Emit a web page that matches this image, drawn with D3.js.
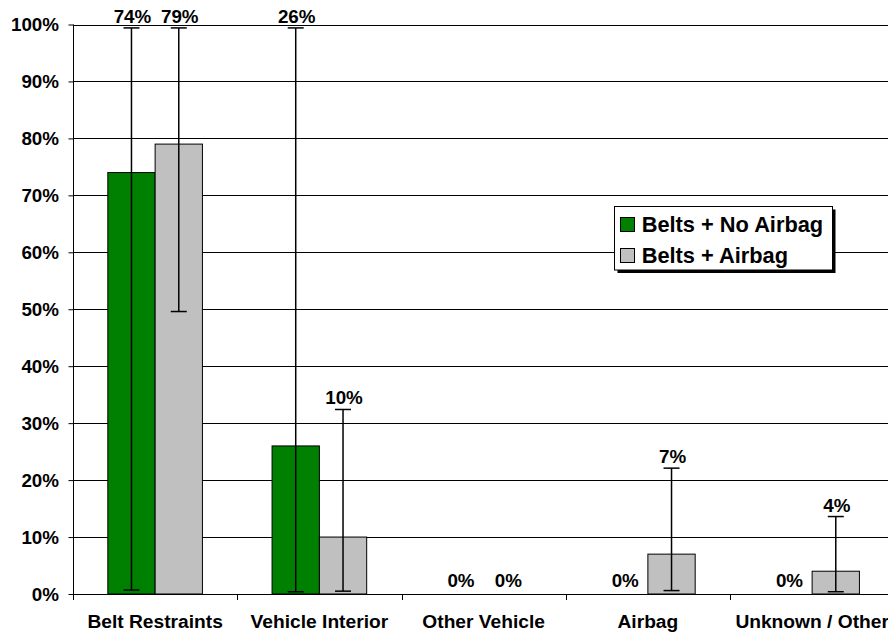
<!DOCTYPE html>
<html>
<head>
<meta charset="utf-8">
<script src="https://cdn.jsdelivr.net/npm/d3@7"></script>
<style>
  html, body { margin: 0; padding: 0; background: #fff; }
  svg { display: block; font-family: "Liberation Sans", Arial, sans-serif; font-weight: bold; }
</style>
</head>
<body>
<svg id="chart" width="888" height="635"></svg>
<script>
// Injury source by restraint configuration (percent of cases)
const categories = ["Belt Restraints", "Vehicle Interior", "Other Vehicle", "Airbag", "Unknown / Other"];
const seriesNames = ["Belts + No Airbag", "Belts + Airbag"];
const seriesColors = ["#008000", "#c0c0c0"];

const noAirbagValues = [74, 26, 0, 0, 0];
const airbagValues   = [79, 10, 0, 7, 4];

// Confidence interval bounds (percent)
const noAirbagHigh = [99.4, 99.4, 0, 0, 0];
const noAirbagLow  = [0.7, 0.4, 0, 0, 0];
const airbagHigh   = [99.4, 32.4, 0, 22.1, 13.6];
const airbagLow    = [49.6, 0.5, 0, 0.6, 0.4];

const yTicks = [0, 10, 20, 30, 40, 50, 60, 70, 80, 90, 100];

const svg = d3.select("#chart");
const plot = { left: 73, right: 894.25, top: 24.5, bottom: 594 };
const FONT = "Liberation Sans, Arial, sans-serif";

const x0 = d3.scaleBand().domain(categories).range([plot.left, plot.right]).paddingInner(0).paddingOuter(0);
const x1 = d3.scaleBand().domain(seriesNames).range([0, x0.bandwidth()]).paddingInner(0).paddingOuter(0.736);
const y = d3.scaleLinear().domain([0, 100]).range([plot.bottom, plot.top]);

const rows = categories.map((c, i) => ({
  category: c,
  items: [
    { series: seriesNames[0], value: noAirbagValues[i], hi: noAirbagHigh[i], lo: noAirbagLow[i] },
    { series: seriesNames[1], value: airbagValues[i], hi: airbagHigh[i], lo: airbagLow[i] }
  ]
}));

// Horizontal gridlines
svg.append("g")
  .selectAll("line")
  .data(yTicks.filter(t => t > 0))
  .join("line")
  .attr("x1", plot.left).attr("x2", 888)
  .attr("y1", d => Math.round(y(d)) + 0.5).attr("y2", d => Math.round(y(d)) + 0.5)
  .attr("stroke", "#000").attr("stroke-width", 1);

// Y axis
const yAxis = d3.axisLeft(y).tickValues(yTicks).tickFormat(d => d + "%").tickSize(5).tickPadding(9.5);
const gy = svg.append("g").attr("transform", `translate(${plot.left + 0.5},0)`).call(yAxis);
gy.select(".domain").attr("stroke", "#000").attr("d", `M0,${y(100)}V${plot.bottom}`);
gy.selectAll(".tick line").attr("stroke", "#000");
gy.selectAll(".tick text").attr("fill", "#000")
  .style("font-size", "18.8px").style("font-weight", "bold").style("font-family", FONT);

// Bars
const groups = svg.append("g").selectAll("g")
  .data(rows).join("g")
  .attr("transform", d => `translate(${x0(d.category)},0)`);

groups.selectAll("rect")
  .data(d => d.items.filter(it => it.value > 0))
  .join("rect")
  .attr("x", d => x1(d.series))
  .attr("y", d => y(d.value))
  .attr("width", x1.bandwidth())
  .attr("height", d => y(0) - y(d.value))
  .attr("fill", d => seriesColors[seriesNames.indexOf(d.series)])
  .attr("stroke", "#000").attr("stroke-width", 1);

// Error bars
const capHalf = 8;
const cx = d => x1(d.series) + x1.bandwidth() / 2;
const eb = groups.selectAll("g.err")
  .data(d => d.items.filter(it => it.value > 0))
  .join("g").attr("class", "err")
  .attr("stroke", "#000").attr("stroke-width", 1.5);
eb.append("line")
  .attr("x1", cx).attr("x2", cx)
  .attr("y1", d => y(d.hi)).attr("y2", d => y(d.lo));
eb.append("line")
  .attr("x1", d => cx(d) - capHalf).attr("x2", d => cx(d) + capHalf)
  .attr("y1", d => y(d.hi)).attr("y2", d => y(d.hi));
eb.append("line")
  .attr("x1", d => cx(d) - capHalf).attr("x2", d => cx(d) + capHalf)
  .attr("y1", d => y(d.lo)).attr("y2", d => y(d.lo));

// Value labels above the upper bound
groups.selectAll("text.val")
  .data(d => d.items)
  .join("text").attr("class", "val")
  .attr("x", d => cx(d) + 1)
  .attr("y", d => d.value > 0 ? y(d.hi) - 5 : y(0) - 7)
  .attr("text-anchor", "middle")
  .style("font-size", "18.8px")
  .attr("fill", "#000")
  .text(d => d.value + "%");

// X axis
svg.append("line")
  .attr("x1", plot.left).attr("x2", 888)
  .attr("y1", plot.bottom + 0.5).attr("y2", plot.bottom + 0.5)
  .attr("stroke", "#000");
const xAxis = d3.axisBottom(x0).tickSize(0).tickPadding(0);
const gx = svg.append("g").attr("transform", `translate(0,${plot.bottom})`).call(xAxis);
gx.select(".domain").remove();
gx.selectAll(".tick text")
  .attr("y", 34).attr("dy", 0)
  .attr("fill", "#000")
  .style("font-size", "19.2px").style("font-weight", "bold").style("font-family", FONT);
// Category separator ticks
svg.append("g").selectAll("line")
  .data(categories.map(c => x0(c)).concat([plot.right]))
  .join("line")
  .attr("x1", d => Math.round(d) + 0.5).attr("x2", d => Math.round(d) + 0.5)
  .attr("y1", plot.bottom).attr("y2", plot.bottom + 6)
  .attr("stroke", "#000");

// Legend
const lg = svg.append("g").attr("transform", "translate(614.5,206.5)");
lg.append("rect").attr("x", 3).attr("y", 3).attr("width", 218).attr("height", 63.5).attr("fill", "#000");
lg.append("rect").attr("x", 0).attr("y", 0).attr("width", 218).attr("height", 63.5).attr("fill", "#fff").attr("stroke", "#000");
const li = lg.selectAll("g.item").data(seriesNames).join("g").attr("class", "item")
  .attr("transform", (d, i) => `translate(6,${11 + i * 31})`);
li.append("rect").attr("width", 14).attr("height", 14)
  .attr("fill", (d, i) => seriesColors[i]).attr("stroke", "#000");
li.append("text").attr("x", 21.2).attr("y", 14)
  .style("font-size", "21.8px").attr("fill", "#000")
  .text(d => d);
</script>
</body>
</html>
